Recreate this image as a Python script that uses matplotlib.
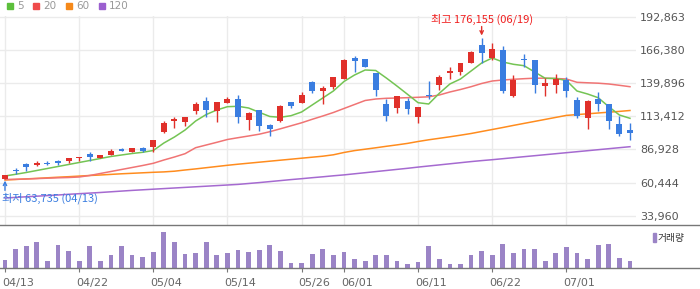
import matplotlib
matplotlib.use('Agg')
import matplotlib.pyplot as plt
import matplotlib.transforms as mtransforms
from matplotlib.patches import Rectangle
import numpy as np

# trading days shown
dates = ['04/13', '04/14', '04/15', '04/16', '04/17', '04/20', '04/21', '04/22', '04/23', '04/24',
         '04/27', '04/28', '04/29', '04/30', '05/04', '05/06', '05/07', '05/08', '05/11', '05/12',
         '05/13', '05/14', '05/15', '05/18', '05/19', '05/20', '05/21', '05/22', '05/26', '05/27',
         '05/28', '05/29', '06/01', '06/02', '06/04', '06/05', '06/08', '06/09', '06/10', '06/11',
         '06/12', '06/15', '06/16', '06/17', '06/18', '06/19', '06/22', '06/23', '06/24', '06/25',
         '06/26', '06/29', '06/30', '07/01', '07/02', '07/03', '07/06', '07/07', '07/08', '07/09']

opens = [63735, 70580, 75360, 74560, 76400, 78000, 77520, 80150, 83100, 80150,
         82540, 87330, 85170, 88130, 88680, 100890, 109900, 109110, 117640, 125620,
         117640, 123780, 127210, 110460, 118440, 106470, 109660, 124820, 124260, 140770,
         133830, 137020, 143410, 159920, 159120, 148190, 123220, 120270, 125620, 113090,
         130400, 138620, 148190, 148990, 156170, 170290, 159920, 166300, 129610, 158880,
         158320, 137820, 138620, 142370, 126420, 112300, 127210, 123220, 107270, 102480]
highs = [66600, 71930, 76400, 77520, 77760, 78790, 80150, 80710, 84940, 82540,
         87330, 88130, 88130, 88920, 94510, 109660, 112620, 112850, 124820, 128810,
         124820, 128810, 130400, 117080, 118440, 107270, 122430, 124820, 132800, 141570,
         137580, 144760, 159120, 161510, 159120, 148190, 127450, 129850, 128010, 120830,
         141570, 146360, 152740, 155930, 165500, 176155, 171650, 169490, 146360, 163110,
         158320, 143730, 147160, 144760, 128810, 126420, 132800, 123220, 113650, 107830]
lows = [63735, 67390, 70020, 73530, 74800, 74330, 76400, 77520, 78000, 80150,
        82540, 85730, 85170, 84940, 84940, 100330, 104320, 105910, 115490, 113090,
        109110, 123780, 108310, 102480, 101930, 97940, 109110, 120270, 124260, 132240,
        123460, 135430, 143410, 148750, 152980, 129850, 109900, 116280, 115490, 108310,
        127210, 134390, 143410, 146600, 156170, 156170, 158560, 132240, 129050, 152980,
        131760, 129850, 132240, 129050, 112300, 103520, 117400, 103040, 97940, 94750]
closes = [66590, 69540, 72730, 76400, 75600, 76400, 80150, 80710, 81190, 82540,
          85730, 85970, 88130, 85490, 94510, 108070, 111260, 112850, 123220, 118440,
          124820, 127210, 112850, 116280, 105910, 103280, 121630, 121870, 130400, 133590,
          135990, 144760, 158320, 157770, 152980, 134390, 113890, 129850, 119480, 120830,
          129610, 144760, 149550, 155930, 164710, 164150, 166860, 133590, 142610, 158320,
          138620, 139740, 142930, 133830, 113650, 125620, 123460, 109900, 99530, 100330]

# volume, thousand shares
volumes = [80, 190, 220, 260, 70, 230, 170, 70, 220, 70,
           130, 220, 130, 110, 160, 360, 260, 140, 150, 260,
           130, 150, 180, 160, 180, 230, 170, 50, 50, 140,
           190, 130, 160, 90, 70, 130, 130, 70, 40, 60,
           220, 90, 40, 40, 130, 170, 130, 240, 150, 190,
           190, 70, 150, 210, 150, 90, 230, 240, 100, 70]

# moving averages
ma5 = [65790, 67150, 68580, 70180, 71770, 73370, 74960, 76560, 78150, 79750,
       81350, 82540, 83740, 84700, 86130, 92110, 96900, 102480, 109660, 114850,
       118440, 121070, 121390, 120030, 116600, 113250, 112620, 113890, 116840, 122430,
       128010, 133590, 141170, 146360, 150350, 149950, 143960, 137580, 130960, 124260,
       123220, 131760, 139180, 143170, 149550, 155930, 159920, 156730, 154890, 153780,
       148750, 143730, 143570, 141970, 133590, 131200, 128250, 121070, 114450, 111820]
ma20 = [63000, 63160, 63400, 63720, 64040, 64350, 64590, 64990, 66190, 67780,
        69380, 70980, 72570, 74170, 75920, 78550, 80950, 83580, 88370, 90520,
        92670, 94910, 96340, 97700, 99130, 101130, 103440, 105830, 108230, 111020,
        113650, 116440, 119640, 122830, 126020, 127210, 127770, 128010, 128250, 128570,
        128970, 130400, 132800, 134790, 137020, 139580, 141570, 142370, 142930, 143410,
        143810, 143810, 143570, 143170, 140530, 140140, 139820, 139180, 138140, 137020]
ma60 = [62600, 63000, 63480, 63880, 64350, 64830, 65230, 65710, 66190, 66590,
        67070, 67550, 67940, 68340, 68740, 69060, 69620, 70580, 71450, 72410,
        73370, 74330, 75200, 76000, 76800, 77600, 78400, 79190, 79990, 80790,
        81580, 82700, 84540, 86050, 87170, 88290, 89480, 90600, 91800, 93310,
        94670, 95860, 97060, 98340, 99690, 101290, 102880, 104480, 106150, 107750,
        109340, 110940, 112540, 114130, 114770, 115410, 116050, 116680, 117320, 118040]
ma120 = [48240, 48720, 49200, 49680, 50160, 50630, 51190, 51670, 52150, 52630,
         53190, 53750, 54300, 54780, 55260, 55740, 56220, 56700, 57180, 57650,
         58130, 58610, 59090, 59810, 60530, 61320, 62120, 62920, 63640, 64430,
         65150, 65950, 66670, 67550, 68420, 69300, 70180, 71060, 71930, 72890,
         73770, 74640, 75520, 76400, 77280, 78070, 78790, 79590, 80390, 81190,
         81980, 82780, 83580, 84380, 85170, 85970, 86770, 87570, 88370, 89160]

tick_dates = ['04/13', '04/22', '05/04', '05/14', '05/26', '06/01', '06/11', '06/22', '07/01']
price_ticks = [33960, 60444, 86928, 113412, 139896, 166380, 192863]

RED = '#e0302a'
BLUE = '#3a7de0'
C5, C20, C60, C120 = '#74c454', '#f07474', '#ff8c1e', '#a56ad0'
KFONT = ['Noto Sans CJK KR', 'DejaVu Sans']

fig = plt.figure(figsize=(7, 2.89), dpi=100)
ax = fig.add_axes([0, 1 - 225 / 289, 636 / 700, 209 / 289])
vax = fig.add_axes([0, 1 - 268 / 289, 1, 43 / 289])

x = np.arange(len(dates))
o = np.array(opens)
c = np.array(closes)
tick_idx = [dates.index(d) for d in tick_dates]

# moving averages
ax.plot(x, ma120, color=C120, lw=1.1, zorder=2)
ax.plot(x, ma60, color=C60, lw=1.1, zorder=2)
ax.plot(x, ma20, color=C20, lw=1.1, zorder=2)
ax.plot(x, ma5, color=C5, lw=1.1, zorder=2)

# candles
cols = np.where(c >= o, RED, BLUE)
ax.vlines(x, lows, highs, colors=cols, lw=1, zorder=3)
ax.bar(x, np.maximum(np.abs(c - o), 700), bottom=np.minimum(o, c), width=0.56,
       color=cols, linewidth=0, zorder=4)

ax.set_xlim(-0.47, 59.57)
ax.set_ylim(26700, 193420)
ax.set_xticks(tick_idx)
ax.set_yticks(price_ticks)
ax.set_yticklabels([f'{p:,}' for p in price_ticks])
ax.yaxis.tick_right()
ax.tick_params(axis='y', length=0, pad=3, labelsize=8, labelcolor='#555555')
ax.tick_params(axis='x', length=0, labelbottom=False)
ax.grid(True, color='#ebebeb', lw=1)
ax.set_axisbelow(True)
for s in ax.spines.values():
    s.set_visible(False)

# high / low markers
hi = int(np.argmax(highs))
lo = int(np.argmin(lows))
ax.annotate('', xy=(hi, highs[hi]), xytext=(0, 8), textcoords='offset points',
            arrowprops=dict(arrowstyle='->', color=RED, lw=1, shrinkA=0, shrinkB=1.5,
                            mutation_scale=6), annotation_clip=False)
ax.annotate(f'최고 {highs[hi]:,} ({dates[hi]})', xy=(hi, highs[hi]), xytext=(0, 13.5),
            textcoords='offset points', ha='center', va='center', color='#f01e1e',
            fontsize=8, family=KFONT, annotation_clip=False)
ax.annotate('', xy=(lo, lows[lo]), xytext=(0, -8.5), textcoords='offset points',
            arrowprops=dict(arrowstyle='->', color=BLUE, lw=1, shrinkA=0, shrinkB=1.5,
                            mutation_scale=6), annotation_clip=False)
ax.annotate(f'최저 {lows[lo]:,} ({dates[lo]})', xy=(lo, lows[lo]), xytext=(-2, -14),
            textcoords='offset points', ha='left', va='center', color=BLUE,
            fontsize=8, family=KFONT, annotation_clip=False)

# volume panel
vax.bar(x, volumes, width=0.45, color='#9b84c6', linewidth=0)
vax.set_xlim(-0.47, 65.61)
vax.set_ylim(0, 430)
vax.set_yticks([])
vax.set_xticks(tick_idx)
vax.set_xticklabels(tick_dates)
vax.tick_params(axis='x', length=3, color='#777777', labelsize=8, labelcolor='#666666', pad=4)
shift = mtransforms.ScaledTranslation(-0.03, 0, fig.dpi_scale_trans)
for lbl in vax.get_xticklabels():
    lbl.set_horizontalalignment('left')
    lbl.set_transform(lbl.get_transform() + shift)
for side in ['left', 'right']:
    vax.spines[side].set_visible(False)
for side in ['top', 'bottom']:
    vax.spines[side].set_color('#777777')
    vax.spines[side].set_linewidth(1)
vax.patch.set_alpha(0)

vax.add_patch(Rectangle((652.7 / 700, 1 - 241.7 / 289), 3 / 700, 8.4 / 289,
                        transform=fig.transFigure, color='#9b84c6', clip_on=False))
fig.text(658 / 700, 1 - 237.5 / 289, '거래량', fontsize=7, color='#333333',
         family=KFONT, va='center', ha='left')

# legend on top
legend_items = [('5', '#5cbf3c'), ('20', '#ef4b4b'), ('60', '#f5891a'), ('120', '#9b5fcf')]
legend_x = [7, 33, 66, 99]
for (lab, col), lx in zip(legend_items, legend_x):
    fig.add_artist(Rectangle((lx / 700, 1 - 9.3 / 289), 6 / 700, 6.6 / 289,
                             transform=fig.transFigure, color=col))
    fig.text((lx + 10) / 700, 1 - 6 / 289, lab, fontsize=7.5, color='#999999',
             va='center', ha='left')

fig.savefig('out.png', dpi=100)
